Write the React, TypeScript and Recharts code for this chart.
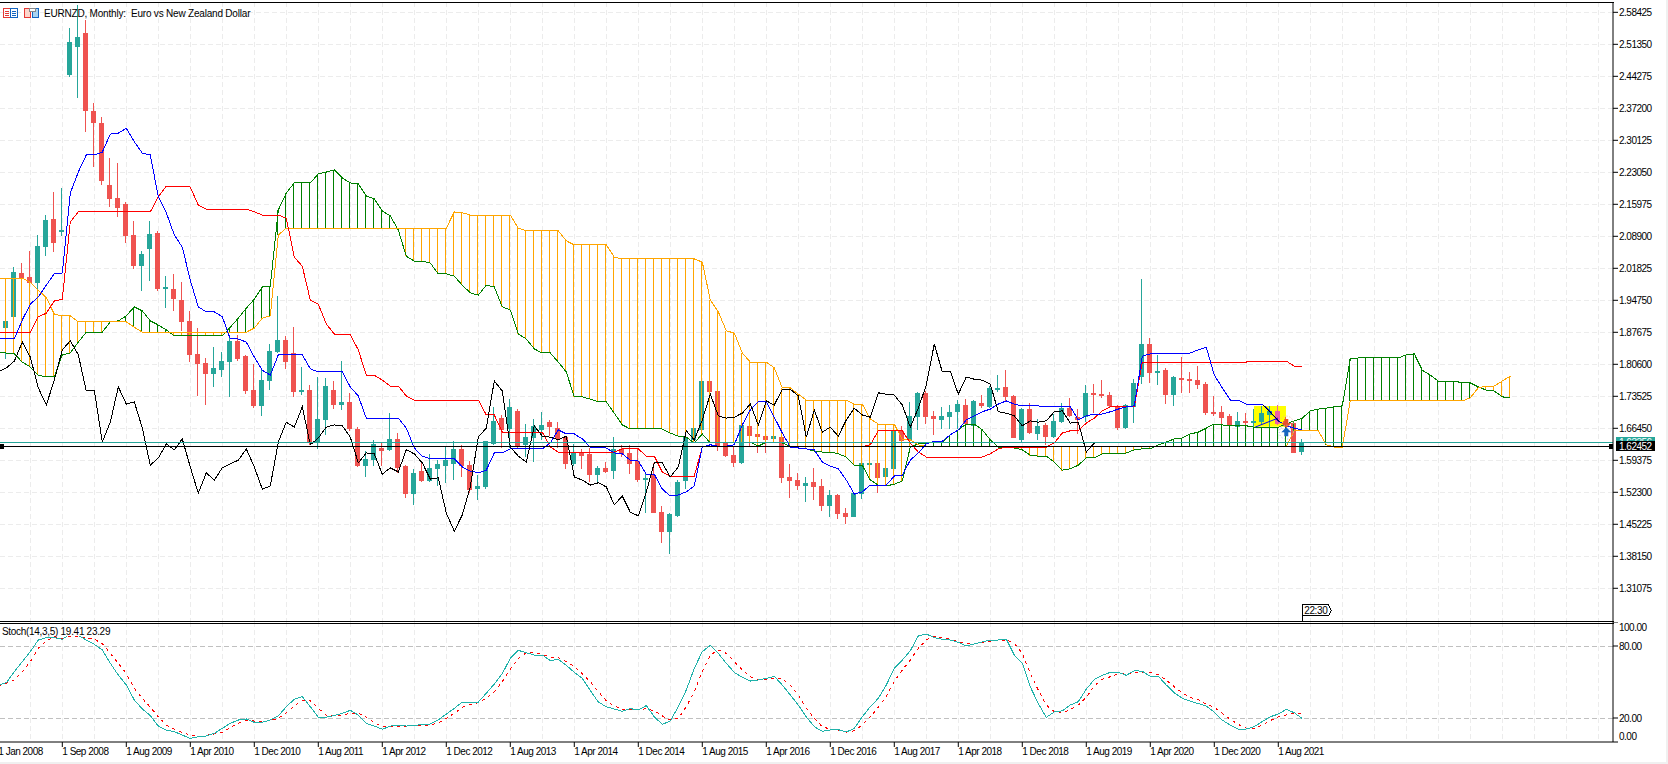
import React from "react";
import { ComposedChart, Bar, Line, XAxis, YAxis, CartesianGrid, ReferenceLine, ReferenceArea, ReferenceDot } from "recharts";

const opens = [1.900,1.886,1.911,2.008,1.999,1.986,2.065,2.127,2.099,2.446,
2.508,2.539,2.366,2.340,2.202,2.174,2.160,2.092,2.023,2.061,
2.096,1.973,1.973,1.948,1.902,1.829,1.809,1.785,1.793,1.811,
1.858,1.824,1.749,1.714,1.769,1.833,1.860,1.831,1.745,1.749,
1.632,1.683,1.749,1.716,1.723,1.663,1.581,1.594,1.621,1.617,
1.641,1.581,1.519,1.570,1.548,1.575,1.581,1.586,1.619,1.583,
1.530,1.535,1.630,1.687,1.663,1.703,1.628,1.643,1.661,1.678,
1.665,1.645,1.586,1.612,1.608,1.561,1.577,1.570,1.619,1.610,
1.592,1.550,1.561,1.479,1.435,1.471,1.548,1.639,1.661,1.769,
1.747,1.634,1.605,1.588,1.670,1.652,1.647,1.641,1.645,1.557,
1.550,1.537,1.546,1.537,1.493,1.517,1.477,1.468,1.519,1.586,
1.588,1.557,1.575,1.659,1.639,1.689,1.743,1.692,1.683,1.689,
1.701,1.716,1.670,1.720,1.712,1.751,1.756,1.736,1.639,1.707,
1.652,1.672,1.645,1.678,1.709,1.689,1.689,1.743,1.740,1.738,
1.714,1.665,1.712,1.778,1.851,1.787,1.793,1.738,1.776,1.773,
1.771,1.762,1.701,1.701,1.692,1.667,1.681,1.676,1.678,1.694,
1.703,1.681,1.676,1.612];

const closes = [1.886,1.902,2.010,1.997,1.986,2.068,2.125,2.074,2.103,2.519,
2.530,2.366,2.340,2.211,2.172,2.152,2.090,2.023,2.050,2.094,
1.973,1.977,1.950,1.900,1.827,1.807,1.785,1.798,1.813,1.858,
1.818,1.747,1.714,1.771,1.835,1.860,1.811,1.745,1.749,1.632,
1.685,1.758,1.716,1.723,1.663,1.581,1.597,1.630,1.614,1.641,
1.577,1.519,1.566,1.548,1.577,1.586,1.594,1.619,1.581,1.528,
1.537,1.636,1.681,1.661,1.712,1.623,1.645,1.670,1.672,1.667,
1.641,1.586,1.610,1.603,1.561,1.577,1.568,1.619,1.608,1.586,
1.550,1.555,1.477,1.435,1.475,1.546,1.645,1.665,1.769,1.745,
1.625,1.603,1.588,1.672,1.647,1.645,1.639,1.647,1.555,1.548,
1.537,1.544,1.535,1.493,1.517,1.475,1.468,1.521,1.588,1.588,
1.555,1.577,1.661,1.636,1.692,1.743,1.689,1.685,1.692,1.701,
1.718,1.674,1.725,1.714,1.754,1.754,1.734,1.643,1.707,1.654,
1.670,1.645,1.681,1.709,1.692,1.683,1.743,1.738,1.736,1.714,
1.665,1.716,1.765,1.851,1.787,1.791,1.738,1.778,1.771,1.769,
1.760,1.698,1.696,1.687,1.670,1.681,1.676,1.681,1.698,1.703,
1.674,1.672,1.610,1.634];

const highs = [1.908,1.908,2.021,2.030,2.057,2.092,2.136,2.187,2.196,2.550,
2.600,2.567,2.384,2.353,2.262,2.251,2.165,2.123,2.057,2.123,
2.101,2.001,2.006,1.988,1.924,1.886,1.820,1.844,1.833,1.866,
1.871,1.827,1.807,1.798,1.851,1.957,1.869,1.888,1.800,1.760,
1.778,1.776,1.769,1.813,1.743,1.667,1.614,1.639,1.632,1.698,
1.654,1.583,1.575,1.592,1.608,1.594,1.623,1.636,1.628,1.592,
1.561,1.636,1.712,1.694,1.729,1.707,1.674,1.685,1.701,1.683,
1.678,1.647,1.630,1.619,1.621,1.581,1.590,1.645,1.628,1.628,
1.619,1.563,1.588,1.493,1.477,1.550,1.661,1.665,1.769,1.769,
1.747,1.636,1.623,1.676,1.672,1.654,1.650,1.647,1.647,1.586,
1.566,1.557,1.577,1.552,1.528,1.519,1.488,1.524,1.590,1.588,
1.590,1.579,1.665,1.670,1.723,1.745,1.747,1.703,1.712,1.716,
1.727,1.729,1.727,1.738,1.758,1.782,1.793,1.738,1.709,1.720,
1.685,1.676,1.696,1.720,1.732,1.707,1.760,1.762,1.771,1.745,
1.716,1.718,1.773,1.995,1.864,1.827,1.798,1.780,1.822,1.789,
1.802,1.767,1.736,1.714,1.696,1.701,1.698,1.707,1.714,1.714,
1.716,1.689,1.681,1.641];

const lows = [1.875,1.818,1.911,1.986,1.970,1.959,2.045,2.054,2.090,2.441,
2.395,2.320,2.242,2.202,2.154,2.132,2.074,2.017,1.968,1.990,
1.968,1.930,1.924,1.880,1.811,1.736,1.716,1.756,1.778,1.734,
1.813,1.740,1.709,1.692,1.749,1.831,1.796,1.734,1.738,1.628,
1.619,1.650,1.707,1.705,1.659,1.579,1.557,1.581,1.581,1.614,
1.566,1.510,1.495,1.546,1.546,1.537,1.544,1.550,1.557,1.521,
1.506,1.530,1.628,1.621,1.621,1.621,1.601,1.590,1.639,1.647,
1.621,1.575,1.581,1.575,1.546,1.541,1.566,1.552,1.601,1.563,
1.546,1.477,1.477,1.411,1.387,1.468,1.530,1.632,1.656,1.738,
1.614,1.601,1.579,1.586,1.625,1.610,1.610,1.639,1.544,1.510,
1.528,1.502,1.506,1.482,1.468,1.464,1.453,1.468,1.508,1.583,
1.521,1.550,1.572,1.634,1.634,1.661,1.674,1.650,1.663,1.663,
1.663,1.670,1.667,1.709,1.709,1.745,1.725,1.643,1.634,1.652,
1.639,1.628,1.643,1.676,1.689,1.652,1.678,1.698,1.732,1.712,
1.661,1.663,1.676,1.762,1.765,1.760,1.718,1.714,1.743,1.743,
1.751,1.694,1.692,1.672,1.667,1.663,1.667,1.667,1.672,1.667,
1.672,1.665,1.610,1.605];

const tenkan = [1.862,1.862,1.862,1.904,1.939,1.955,1.981,2.006,2.008,2.185,
2.231,2.269,2.269,2.275,2.315,2.317,2.328,2.298,2.273,2.269,
2.176,2.141,2.092,2.065,1.992,1.933,1.922,1.922,1.911,1.862,
1.862,1.855,1.822,1.793,1.782,1.827,1.827,1.827,1.827,1.796,
1.789,1.789,1.789,1.789,1.756,1.736,1.687,1.687,1.687,1.687,
1.687,1.665,1.621,1.603,1.597,1.597,1.597,1.597,1.579,1.570,
1.566,1.572,1.610,1.610,1.619,1.619,1.619,1.619,1.619,1.632,
1.661,1.652,1.652,1.641,1.623,1.621,1.621,1.610,1.608,1.594,
1.592,1.563,1.563,1.530,1.515,1.517,1.524,1.537,1.623,1.628,
1.625,1.625,1.628,1.672,1.705,1.723,1.723,1.689,1.654,1.623,
1.621,1.619,1.617,1.590,1.581,1.575,1.550,1.519,1.524,1.539,
1.539,1.539,1.559,1.561,1.594,1.610,1.630,1.636,1.636,1.650,
1.661,1.683,1.692,1.701,1.707,1.718,1.725,1.718,1.714,1.714,
1.714,1.712,1.712,1.712,1.712,1.683,1.692,1.696,1.696,1.701,
1.707,1.712,1.714,1.824,1.829,1.829,1.829,1.829,1.829,1.831,
1.838,1.844,1.782,1.754,1.727,1.727,1.718,1.718,1.718,1.701,
1.681,1.670,1.665,1.661];

const kijun = [1.877,1.877,1.877,1.877,1.877,1.911,1.919,1.946,1.950,2.121,
2.143,2.143,2.143,2.143,2.143,2.143,2.143,2.143,2.143,2.143,
2.176,2.200,2.200,2.200,2.198,2.158,2.149,2.149,2.149,2.149,
2.149,2.149,2.143,2.136,2.136,2.136,2.129,2.043,2.023,1.948,
1.939,1.895,1.873,1.871,1.871,1.838,1.782,1.782,1.771,1.758,
1.758,1.736,1.727,1.727,1.727,1.727,1.727,1.727,1.727,1.727,
1.727,1.694,1.694,1.656,1.656,1.656,1.656,1.656,1.656,1.623,
1.612,1.612,1.612,1.612,1.612,1.612,1.612,1.612,1.619,1.619,
1.619,1.603,1.603,1.568,1.559,1.559,1.559,1.559,1.623,1.624,
1.624,1.624,1.624,1.624,1.624,1.624,1.624,1.624,1.624,1.624,
1.624,1.624,1.624,1.624,1.624,1.624,1.624,1.624,1.624,1.628,
1.659,1.659,1.659,1.659,1.632,1.612,1.601,1.601,1.601,1.601,
1.601,1.601,1.601,1.601,1.608,1.619,1.623,1.623,1.623,1.623,
1.623,1.623,1.632,1.654,1.659,1.659,1.676,1.687,1.703,1.712,
1.712,1.712,1.712,1.811,1.811,1.811,1.811,1.811,1.811,1.811,
1.811,1.811,1.811,1.811,1.811,1.811,1.811,1.813,1.813,1.813,
1.813,1.813,1.802,1.800];

const chikou = [1.789,1.798,1.813,1.855,1.822,1.754,1.716,1.771,1.838,1.858,
1.827,1.747,1.749,1.634,1.678,1.756,1.718,1.723,1.665,1.583,
1.599,1.630,1.617,1.641,1.579,1.521,1.566,1.550,1.577,1.586,
1.594,1.619,1.579,1.530,1.537,1.634,1.678,1.667,1.712,1.628,
1.643,1.667,1.672,1.670,1.645,1.588,1.610,1.608,1.563,1.577,
1.568,1.617,1.608,1.588,1.552,1.555,1.477,1.437,1.473,1.535,
1.645,1.665,1.769,1.747,1.623,1.603,1.590,1.670,1.647,1.645,
1.639,1.647,1.557,1.550,1.539,1.544,1.535,1.495,1.515,1.479,
1.471,1.524,1.588,1.588,1.557,1.579,1.659,1.639,1.683,1.740,
1.692,1.687,1.689,1.698,1.718,1.672,1.725,1.716,1.751,1.751,
1.736,1.645,1.705,1.656,1.667,1.647,1.683,1.709,1.694,1.689,
1.743,1.740,1.738,1.716,1.667,1.709,1.760,1.851,1.789,1.791,
1.740,1.778,1.773,1.771,1.762,1.701,1.698,1.692,1.670,1.681,
1.678,1.681,1.701,1.703,1.676,1.678,1.612,1.632];

const spanGreen = [1.833,1.831,1.829,1.811,1.800,1.782,1.778,1.778,1.827,1.831,
1.855,1.877,1.877,1.877,1.900,1.902,1.913,1.933,1.924,1.902,
1.893,1.882,1.869,1.869,1.869,1.869,1.869,1.869,1.869,1.888,
1.908,1.930,1.950,1.977,1.979,2.147,2.185,2.207,2.207,2.207,
2.227,2.231,2.236,2.218,2.207,2.205,2.178,2.172,2.145,2.134,
2.103,2.045,2.034,2.034,2.030,2.006,2.006,2.001,1.981,1.964,
1.959,1.981,1.977,1.933,1.926,1.873,1.862,1.840,1.831,1.831,
1.811,1.789,1.734,1.734,1.729,1.723,1.723,1.698,1.672,1.663,
1.663,1.663,1.663,1.663,1.654,1.647,1.645,1.632,1.652,1.632,
1.634,1.634,1.634,1.634,1.634,1.625,1.634,1.632,1.632,1.625,
1.621,1.619,1.614,1.612,1.612,1.608,1.601,1.583,1.583,1.550,
1.539,1.537,1.541,1.548,1.623,1.630,1.632,1.632,1.632,1.650,
1.661,1.674,1.674,1.661,1.639,1.623,1.621,1.621,1.617,1.605,
1.603,1.603,1.590,1.572,1.575,1.583,1.599,1.599,1.608,1.608,
1.608,1.610,1.617,1.619,1.619,1.628,1.634,1.641,1.643,1.652,
1.656,1.665,1.674,1.672,1.670,1.670,1.670,1.667,1.667,1.667,
1.667,1.674,1.681,1.687,1.703,1.707,1.709,1.712,1.714,1.818,
1.820,1.820,1.820,1.820,1.820,1.820,1.827,1.829,1.793,1.782,
1.769,1.769,1.769,1.765,1.765,1.756,1.749,1.747,1.734,1.732];

const spanOrange = [1.996,1.996,1.996,1.996,1.988,1.970,1.953,1.917,1.913,1.913,
1.900,1.900,1.900,1.900,1.900,1.900,1.900,1.888,1.877,1.877,
1.877,1.877,1.877,1.877,1.877,1.877,1.877,1.877,1.877,1.877,
1.877,1.877,1.886,1.908,1.913,2.092,2.107,2.107,2.107,2.107,
2.107,2.107,2.107,2.107,2.107,2.107,2.107,2.107,2.107,2.107,
2.107,2.107,2.107,2.107,2.107,2.107,2.107,2.143,2.141,2.136,
2.136,2.136,2.136,2.136,2.136,2.107,2.101,2.101,2.101,2.101,
2.101,2.079,2.070,2.070,2.070,2.070,2.070,2.043,2.039,2.039,
2.039,2.039,2.039,2.039,2.039,2.039,2.039,2.039,2.032,1.948,
1.922,1.880,1.875,1.831,1.811,1.811,1.811,1.798,1.754,1.754,
1.740,1.727,1.727,1.727,1.727,1.727,1.727,1.718,1.718,1.685,
1.674,1.674,1.674,1.639,1.639,1.628,1.624,1.624,1.624,1.624,
1.624,1.624,1.624,1.624,1.624,1.624,1.624,1.624,1.624,1.624,
1.624,1.624,1.624,1.624,1.624,1.624,1.624,1.624,1.624,1.624,
1.624,1.624,1.624,1.624,1.624,1.624,1.624,1.624,1.624,1.624,
1.624,1.624,1.624,1.624,1.624,1.624,1.624,1.624,1.624,1.624,
1.624,1.624,1.659,1.659,1.659,1.659,1.628,1.623,1.623,1.725,
1.725,1.725,1.725,1.725,1.725,1.725,1.725,1.725,1.725,1.725,
1.725,1.725,1.725,1.725,1.732,1.754,1.758,1.758,1.769,1.780];

const stochMain = [47.5,49.4,58.6,67,75.3,85,87,87,85.6,90,
89,85,81.4,76.7,65.6,55.8,47.5,35,27.5,22,
13.3,10,8.6,5.8,3,4.4,5,7.2,11.4,15.6,
18.3,19.2,16.4,16.4,18.3,21.7,29.4,35.6,37.8,29.4,
20.6,20.6,22.2,23.9,26.4,22.5,15.6,13.3,10.6,13.3,
13.9,13.3,13.9,14.4,15,18.3,23.3,28,33.3,33.3,
33.3,40.6,48.3,57,69.7,76.4,74.4,72.5,72.5,67.8,
68.9,64,58,53,43,33.3,29.4,27.5,25.6,27.8,
26.7,30.3,21,14.7,17.5,29.4,43.3,61.4,75.3,80.6,
73.9,65.6,58,53.9,50.8,51.7,53,54.7,47.5,39.2,
30.8,21,12.8,8.9,10,10.3,8.3,11.4,21,29.4,
36.4,47.5,61.4,68.3,76,88.3,90,87,85.6,85,
83,80,81.7,83.3,85,85,85.8,72.5,65.6,46,
32,20.6,25,26,30.8,33.6,44,52,55.6,58,
58,55.6,59.4,59,54.7,54.7,47.5,41,36.4,34,
32,30,25,18.3,14,10.8,10.8,12.8,17,21,
23.3,27.2,24.4,19.41];

const stochSignal = [46.7,49,51.7,58.6,67,78,84.4,87.8,86,88,
87.8,86.4,85.6,82,74,65.6,57,44.7,36.4,29,
21,14,10.6,7.8,5.8,4.4,5.6,6.7,8,12.2,
15.6,18,17.5,17,17.8,19.7,24.4,30,34.4,34.4,
28,22.5,21.7,22.5,23.9,23.9,20.6,16,12.8,12.5,
13,13.3,13.6,13.9,14.2,16,19.7,23.9,28.9,31.4,
32.8,36.4,42,50.3,60.6,69.7,74.4,74.4,73,70.8,
70.3,67,62.8,57,50.3,42,34.4,30,27.2,26.7,
26.7,27.8,26,21.7,18.3,19.7,29.4,42,58.6,72.5,
76.7,73.9,67,60,54.4,52.2,52.2,53,52.5,47.5,
39.2,28,19.7,12.8,10.6,10,8.3,9.4,14.2,21,
28.9,38.3,50.3,60,68.3,78,85,88.3,87,85.6,
83.6,82.2,82,82.8,83.9,84.4,85,82.2,73.9,57,
43.3,30.8,25.3,23.9,27.2,30.8,37.2,46.7,52.2,54.4,
57,56.7,57.8,58.3,57.8,56,51.7,46,41,37,
35.4,31.4,28.9,23.9,18.9,14.7,11.4,11.4,14.2,17.8,
21,22.5,23.9,23.29];

const dateLabels = ["1 Jan 2008","1 Sep 2008","1 Aug 2009","1 Apr 2010","1 Dec 2010","1 Aug 2011","1 Apr 2012","1 Dec 2012","1 Aug 2013","1 Apr 2014","1 Dec 2014","1 Aug 2015","1 Apr 2016","1 Dec 2016","1 Aug 2017","1 Apr 2018","1 Dec 2018","1 Aug 2019","1 Apr 2020","1 Dec 2020","1 Aug 2021"];
const dateTicks = [0,8,16,24,32,40,48,56,64,72,80,88,96,104,112,120,128,136,144,152,160];
const gridTicks = [0,4,8,12,16,20,24,28,32,36,40,44,48,52,56,60,64,68,72,76,80,84,88,92,96,100,104,108,112,116,120,124,128,132,136,140,144,148,152,156,160,164,168,172,176,180,184,188,192,196,200];
const priceTicks = [2.58425,2.5135,2.44275,2.372,2.30125,2.2305,2.15975,2.089,2.01825,1.9475,1.87675,1.806,1.73525,1.6645,1.59375,1.523,1.45225,1.3815,1.31075];
const stochTicks = [0,20,80,100];

const BID = 1.62452;
const ASK = 1.63356;
const HIGHLIGHT_BAR = 160;
const LAST_BAR = 163;

const UP = "#26a69a";
const DOWN = "#ef5350";
const FONT = "'Liberation Sans', Arial, sans-serif";
const xDomain = [-0.7875, 201.84];
const yDomain = [1.23843, 2.60706];
const crisp = { shapeRendering: "crispEdges" } as any;

const rows = spanGreen.map((g, i) => ({
  i,
  range: highs[i] != null ? [lows[i], highs[i]] : null,
  o: opens[i], h: highs[i], l: lows[i], c: closes[i],
  tenkan: tenkan[i], kijun: kijun[i], chikou: chikou[i],
  g, or: spanOrange[i],
  cloud: [Math.min(g, spanOrange[i]), Math.max(g, spanOrange[i])],
}));
const stochRows = stochMain.map((m, i) => ({ i, m, s: stochSignal[i] }));

function Candle(p: any) {
  const d = p.payload;
  if (!d || d.h == null || !p.height) return null;
  const k = p.height / (d.h - d.l);
  const left = Math.round(p.x);
  const up = d.c >= d.o;
  const col = d.i === HIGHLIGHT_BAR ? "#ee5fa6" : up ? UP : DOWN;
  const top = Math.round(p.y + (d.h - Math.max(d.o, d.c)) * k);
  const bot = Math.round(p.y + (d.h - Math.min(d.o, d.c)) * k);
  return (
    <g style={crisp}>
      <rect x={left + 2} y={Math.round(p.y)} width={1} height={Math.max(1, Math.round(p.height))} fill={col} />
      <rect x={left} y={top} width={5} height={Math.max(2, bot - top)} fill={col} />
    </g>
  );
}

function Hatch(p: any) {
  const d = p.payload;
  if (!d || !(p.height > 0)) return null;
  return <rect x={Math.round(p.x)} y={Math.round(p.y)} width={1} height={Math.round(p.height)} fill={d.g > d.or ? "#008000" : "#ffa500"} style={crisp} />;
}

function PriceTag(bg: string, label: string) {
  return (p: any) => (
    <g>
      <rect x={p.cx + 3} y={p.cy - 5} width={39} height={10} fill={bg} style={crisp} />
      <text x={p.cx + 6} y={p.cy + 4} fontFamily={FONT} fontSize={10} letterSpacing={-0.5} fill="#fff">{label}</text>
    </g>
  );
}
function Square(p: any) {
  return <rect x={p.cx - 2} y={p.cy - 2} width={4} height={5} fill="#000" style={crisp} />;
}
function ArrowDown(p: any) {
  const { cx: x, cy: y } = p;
  return <g><circle cx={x} cy={y} r={7} fill="none" stroke="#f3b0a0" strokeDasharray="1 2" /><path d={`M${x - 2} ${y - 4}H${x + 2}V${y}H${x + 5}L${x} ${y + 5}L${x - 5} ${y}H${x - 2}Z`} fill="#e8502a" /></g>;
}
function ArrowUp(p: any) {
  const { cx: x, cy: y } = p;
  return <g><circle cx={x} cy={y} r={7} fill="none" stroke="#a0c0e8" strokeDasharray="1 2" /><path d={`M${x - 2} ${y + 4}H${x + 2}V${y}H${x + 5}L${x} ${y - 5}L${x - 5} ${y}H${x - 2}Z`} fill="#1565c0" /></g>;
}
function ClockTag(p: any) {
  const { cx: x, cy: y } = p;
  return (
    <g>
      <path d={`M${x} ${y - 11}H${x + 26}L${x + 29} ${y - 5.5}L${x + 26} ${y}H${x}Z`} fill="#fff" stroke="#000" style={crisp} />
      <path d={`M${x} ${y}V${y + 5}`} stroke="#000" style={crisp} />
      <text x={x + 2} y={y - 2} fontFamily={FONT} fontSize={10} letterSpacing={-0.4} fill="#000">22:30</text>
    </g>
  );
}
function DateTick(p: any) {
  const idx = dateTicks.indexOf(p.payload.value);
  return <text x={p.x} y={133} fontFamily={FONT} fontSize={10} letterSpacing={-0.5} fill="#000">{dateLabels[idx]}</text>;
}
function StochTick(p: any) {
  const v = p.payload.value;
  const dy = v === 100 ? 9 : v === 0 ? -2 : 3.5;
  return <text x={p.x} y={p.y + dy} fontFamily={FONT} fontSize={10} letterSpacing={-0.5} fill="#000">{v.toFixed(2)}</text>;
}

const frame = (l: number, t: number, w: number, h: number, bg = "#000") => (
  <div style={{ position: "absolute", left: l, top: t, width: w, height: h, background: bg }} />
);

export default function App() {
  return (
    <div style={{ position: "absolute", left: 0, top: 0, width: 1668, height: 764, overflow: "hidden", background: "#fff" }}>
      <div style={{ position: "absolute", left: -8, top: 0 }}>
        <ComposedChart width={1676} height={621} data={rows} margin={{ top: 2, right: 0, bottom: 0, left: 0 }}>
          <XAxis dataKey="i" type="number" scale="linear" domain={xDomain} allowDataOverflow hide />
          <XAxis xAxisId="h" dataKey="i" type="number" scale="linear" domain={xDomain} allowDataOverflow hide />
          <YAxis orientation="right" width={55} type="number" domain={yDomain} allowDataOverflow ticks={priceTicks} interval={0}
            tickFormatter={(v: number) => v.toFixed(5)} tickSize={5} tickMargin={1}
            axisLine={{ stroke: "#000" }} tickLine={{ stroke: "#000" }}
            tick={{ fontFamily: FONT, fontSize: 10, fill: "#000", letterSpacing: -0.5 }} />
          <CartesianGrid stroke="#ececec" strokeDasharray="5 3" verticalValues={gridTicks} horizontalValues={priceTicks} style={crisp} />
          <ReferenceArea x1={156.96} x2={160.96} y1={1.668} y2={1.714} fill="#ffff00" fillOpacity={1} stroke="none" ifOverflow="visible" />
          <Bar dataKey="range" barSize={5} shape={Candle} isAnimationActive={false} />
          <Bar xAxisId="h" dataKey="cloud" barSize={1} shape={Hatch} isAnimationActive={false} />
          <Line dataKey="g" stroke="#008000" strokeWidth={1} dot={false} isAnimationActive={false} style={crisp} />
          <Line dataKey="or" stroke="#ffa500" strokeWidth={1} dot={false} isAnimationActive={false} style={crisp} />
          <Line dataKey="kijun" stroke="#ff0000" strokeWidth={1} dot={false} isAnimationActive={false} style={crisp} />
          <Line dataKey="tenkan" stroke="#0000ff" strokeWidth={1} dot={false} isAnimationActive={false} style={crisp} />
          <Line dataKey="chikou" stroke="#000" strokeWidth={1} dot={false} isAnimationActive={false} style={crisp} />
          <ReferenceLine segment={[{ x: 157.1, y: 1.667 }, { x: 159.96, y: 1.687 }]} stroke="#0000ff" />
          <ReferenceLine segment={[{ x: 158.1, y: 1.716 }, { x: 160.2, y: 1.678 }]} stroke="#000" />
          <ReferenceLine y={ASK} stroke={UP} style={crisp} />
          <ReferenceLine y={BID} stroke="#000" style={crisp} />
          <ReferenceDot x={0.4625} y={BID} shape={Square} ifOverflow="visible" />
          <ReferenceDot x={201.6} y={BID} shape={Square} ifOverflow="visible" />
          <ReferenceDot x={161} y={1.676} shape={ArrowDown} ifOverflow="visible" />
          <ReferenceDot x={161} y={1.656} shape={ArrowUp} ifOverflow="visible" />
          <ReferenceDot x={LAST_BAR} y={1.2495} shape={ClockTag} ifOverflow="visible" />
          <ReferenceDot x={201.84} y={ASK} shape={PriceTag(UP, ASK.toFixed(5))} ifOverflow="visible" />
          <ReferenceDot x={201.84} y={BID} shape={PriceTag("#000", BID.toFixed(5))} ifOverflow="visible" />
        </ComposedChart>
      </div>
      <div style={{ position: "absolute", left: -8, top: 622 }}>
        <ComposedChart width={1676} height={142} data={stochRows} margin={{ top: 0, right: 0, bottom: 0, left: 0 }}>
          <XAxis dataKey="i" type="number" scale="linear" domain={xDomain} allowDataOverflow ticks={dateTicks} interval={0} height={22}
            tickSize={5} axisLine={{ stroke: "#000" }} tickLine={{ stroke: "#000" }} tick={DateTick} />
          <YAxis orientation="right" width={55} type="number" domain={[0, 100]} allowDataOverflow ticks={stochTicks} interval={0}
            tickSize={5} tickMargin={1} axisLine={{ stroke: "#000" }} tickLine={{ stroke: "#000" }} tick={StochTick} />
          <CartesianGrid stroke="#ececec" strokeDasharray="5 3" verticalValues={gridTicks} horizontal={false} style={crisp} />
          <ReferenceLine y={80} stroke="#c0c0c0" strokeDasharray="5 3" style={crisp} />
          <ReferenceLine y={20} stroke="#c0c0c0" strokeDasharray="5 3" style={crisp} />
          <Line dataKey="s" stroke="#ff0000" strokeWidth={1} strokeDasharray="3 4" dot={false} isAnimationActive={false} style={crisp} />
          <Line dataKey="m" stroke="#20b2aa" strokeWidth={1} dot={false} isAnimationActive={false} style={crisp} />
        </ComposedChart>
      </div>
      {frame(0, 2, 1614, 1)}
      {frame(0, 621, 1614, 1)}
      {frame(0, 623, 1614, 1)}
      {frame(1666, 0, 2, 764, "#f0f0f0")}
      {frame(0, 762, 1668, 2, "#f0f0f0")}
      <div style={{ position: "absolute", left: 0, top: 624, width: 108, height: 12, background: "#fff" }} />
      <div style={{ position: "absolute", left: 2, top: 626, font: `10px ${FONT}`, letterSpacing: -0.3, color: "#000", whiteSpace: "pre" }}>Stoch(14,3,5) 19.41 23.29</div>
      <div style={{ position: "absolute", left: 44, top: 8, font: `10px ${FONT}`, letterSpacing: -0.2, color: "#000", whiteSpace: "pre" }}>EURNZD, Monthly:  Euro vs New Zealand Dollar</div>
      <svg style={{ position: "absolute", left: 0, top: 0 }} width={44} height={22}>
        <g style={crisp} fill="none" strokeWidth={1}>
          <rect x={3.5} y={8.5} width={7} height={9} stroke="#e53935" />
          <rect x={10.5} y={8.5} width={7} height={9} stroke="#1565c0" />
          <path d="M5 11H9M5 13H9M5 15H9" stroke="#e53935" />
          <path d="M12 11H16M12 13H16M12 15H16" stroke="#1565c0" />
          <path d="M24.5 8.5H30.5V17.5H24.5Z" stroke="#e53935" fill="#fcd5cc" />
          <path d="M32.5 8.5H38.5V17.5H32.5Z" stroke="#1565c0" fill="#a9d4f2" />
          <path d="M29.5 8.5H35.5V11.5H29.5Z" stroke="#888" fill="#fff" />
        </g>
      </svg>
    </div>
  );
}
